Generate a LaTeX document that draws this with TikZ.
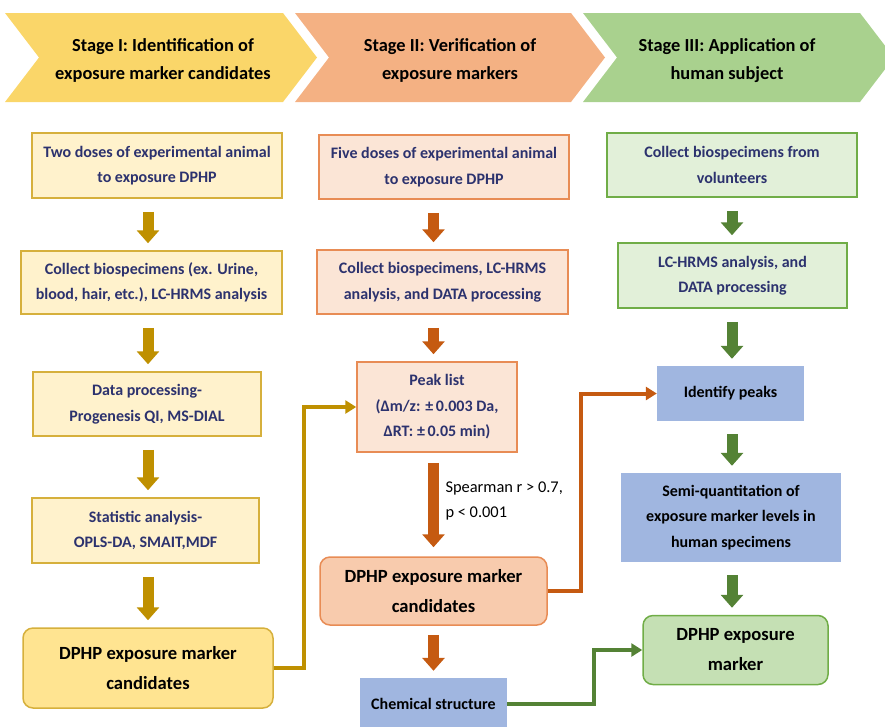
\documentclass[tikz,border=0pt]{standalone}
\usepackage{fontspec}
\setmainfont{Carlito}
\usetikzlibrary{arrows.meta}
\definecolor{bannerI}{RGB}{250,214,105}
\definecolor{bannerII}{RGB}{244,177,131}
\definecolor{bannerIII}{RGB}{169,209,142}
\definecolor{goldline}{RGB}{191,144,0}
\definecolor{goldfill}{RGB}{255,242,204}
\definecolor{golddark}{RGB}{255,228,145}
\definecolor{goldedge}{RGB}{214,176,60}
\definecolor{rustline}{RGB}{197,90,17}
\definecolor{rustfill}{RGB}{251,229,214}
\definecolor{rustdark}{RGB}{248,203,173}
\definecolor{rustedge}{RGB}{232,140,85}
\definecolor{leafline}{RGB}{84,130,53}
\definecolor{leaffill}{RGB}{226,240,217}
\definecolor{leafdark}{RGB}{197,224,180}
\definecolor{leafedge}{RGB}{112,173,71}
\definecolor{bluebox}{RGB}{160,182,224}
\definecolor{navytext}{RGB}{44,50,110}
\tikzset{
  stagetext/.style={font=\fontsize{18.4}{28}\selectfont\bfseries, align=center},
  boxsize/.style 2 args={minimum width=#1pt, minimum height=#2pt},
  stepbox/.style={draw, line width=1.5pt, align=center, text=navytext, font=\fontsize{16}{25.5}\selectfont\bfseries, inner sep=0pt},
  goldbox/.style={stepbox, fill=goldfill, draw=goldedge},
  rustbox/.style={stepbox, fill=rustfill, draw=rustedge},
  leafbox/.style={stepbox, fill=leaffill, draw=leafedge},
  endbox/.style={draw, line width=1.5pt, rounded corners=10pt, align=center, font=\fontsize{18.6}{30}\selectfont\bfseries, inner sep=0pt},
  bluenode/.style={fill=bluebox, align=center, font=\fontsize{16}{25.5}\selectfont\bfseries, inner sep=0pt},
  blk/.style={line width=11pt, -{Triangle[width=22pt,length=13pt]}, shorten <=13pt, shorten >=7pt},
  elbow/.style={line width=4pt, -{Triangle[width=13pt,length=11pt]}}
}
\begin{document}
\begin{tikzpicture}[x=1pt,y=-1pt]
    \useasboundingbox (0,0) rectangle (885,726);
    \fill[bannerI] (5,13) -- (283,13) -- (317,57.5) -- (283,102) -- (5,102) -- (39,57.5) -- cycle;
    \fill[bannerII] (295,13) -- (571,13) -- (605,57.5) -- (571,102) -- (295,102) -- (329,57.5) -- cycle;
    \fill[bannerIII] (583,13) -- (860,13) -- (894,57.5) -- (860,102) -- (583,102) -- (617,57.5) -- cycle;
    \node[stagetext] (stI) at (163,60.5) {Stage I: Identification of\\exposure marker candidates};
    \node[stagetext] (stII) at (450,60.5) {Stage II: Verification of\\exposure markers};
    \node[stagetext] (stIII) at (727,60.5) {Stage III: Application of\\human subject};

    \node[goldbox, boxsize={250}{65}] (a1) at (157,165.5) {Two doses of experimental animal\\to exposure DPHP};
    \node[goldbox, boxsize={261}{63}] (a2) at (151.5,282.5) {Collect biospecimens (ex. Urine,\\blood, hair, etc.), LC-HRMS analysis};
    \node[goldbox, boxsize={228}{64}] (a3) at (147,404) {Data processing-\\Progenesis QI, MS-DIAL};
    \node[goldbox, boxsize={227}{65}] (a4) at (145.5,530.5) {Statistic analysis-\\OPLS-DA, SMAIT,MDF};
    \node[endbox, fill=golddark, draw=goldedge, boxsize={250}{80}] (a5) at (148,668) {DPHP exposure marker\\candidates};

    \node[rustbox, boxsize={250}{64}] (b1) at (444,167) {Five doses of experimental animal\\to exposure DPHP};
    \node[rustbox, boxsize={251}{64}] (b2) at (442.5,282) {Collect biospecimens, LC-HRMS\\analysis, and DATA processing};
    \node[rustbox, boxsize={160}{90}] (b3) at (437,407) {Peak list\\(Δm/z: ±\,0.003 Da,\\ΔRT: ±\,0.05 min)};
    \node[endbox, fill=rustdark, draw=rustedge, boxsize={227}{68}] (b4) at (433.5,591) {DPHP exposure marker\\candidates};
    \node[bluenode, boxsize={147}{52}] (b5) at (433.5,704) {Chemical structure};
    \node[anchor=west, align=left, font=\fontsize{16.4}{25}\selectfont] (spear) at (442,501) {Spearman r > 0.7,\\p < 0.001};

    \node[leafbox, boxsize={250}{64}] (c1) at (732,165) {Collect biospecimens from\\volunteers};
    \node[leafbox, boxsize={229}{65}] (c2) at (732.5,275.5) {LC-HRMS analysis, and\\DATA processing};
    \node[bluenode, boxsize={147}{55}] (c3) at (730.5,393.5) {Identify peaks};
    \node[bluenode, boxsize={220}{89}] (c4) at (731,517.5) {Semi-quantitation of\\exposure marker levels in\\human specimens};
    \node[endbox, fill=leafdark, draw=leafedge, boxsize={185}{69}] (c5) at (735.5,650) {DPHP exposure\\marker};

    \draw[blk, goldline] (a1.south -| a5) -- (a2.north -| a5);
    \draw[blk, goldline] (a2.south -| a5) -- (a3.north -| a5);
    \draw[blk, goldline] (a3.south -| a5) -- (a4.north -| a5);
    \draw[blk, goldline] (a4.south -| a5) -- (a5.north);
    \draw[blk, rustline] (b1.south -| b5) -- (b2.north -| b5);
    \draw[blk, rustline] (b2.south -| b5) -- (b3.north -| b5);
    \draw[blk, rustline, shorten <=10pt, shorten >=9pt] (b3.south -| b5) -- (b4.north -| b5);
    \draw[blk, rustline, shorten <=9pt] (b4.south -| b5) -- (b5.north);
    \draw[blk, leafline] (c1.south -| c1) -- (c2.north -| c1);
    \draw[blk, leafline] (c2.south -| c1) -- (c3.north -| c1);
    \draw[blk, leafline] (c3.south -| c1) -- (c4.north -| c1);
    \draw[blk, leafline] (c4.south -| c1) -- (c5.north -| c1);

    \draw[elbow, goldline] (a5.east) -- ++(30,0) |- (b3.west);
    \draw[elbow, rustline] (b4.east) -- ++(33,0) |- (c3.west);
    \draw[elbow, leafline] (b5.east) -- ++(87,0) |- (c5.west);
\end{tikzpicture}
\end{document}
